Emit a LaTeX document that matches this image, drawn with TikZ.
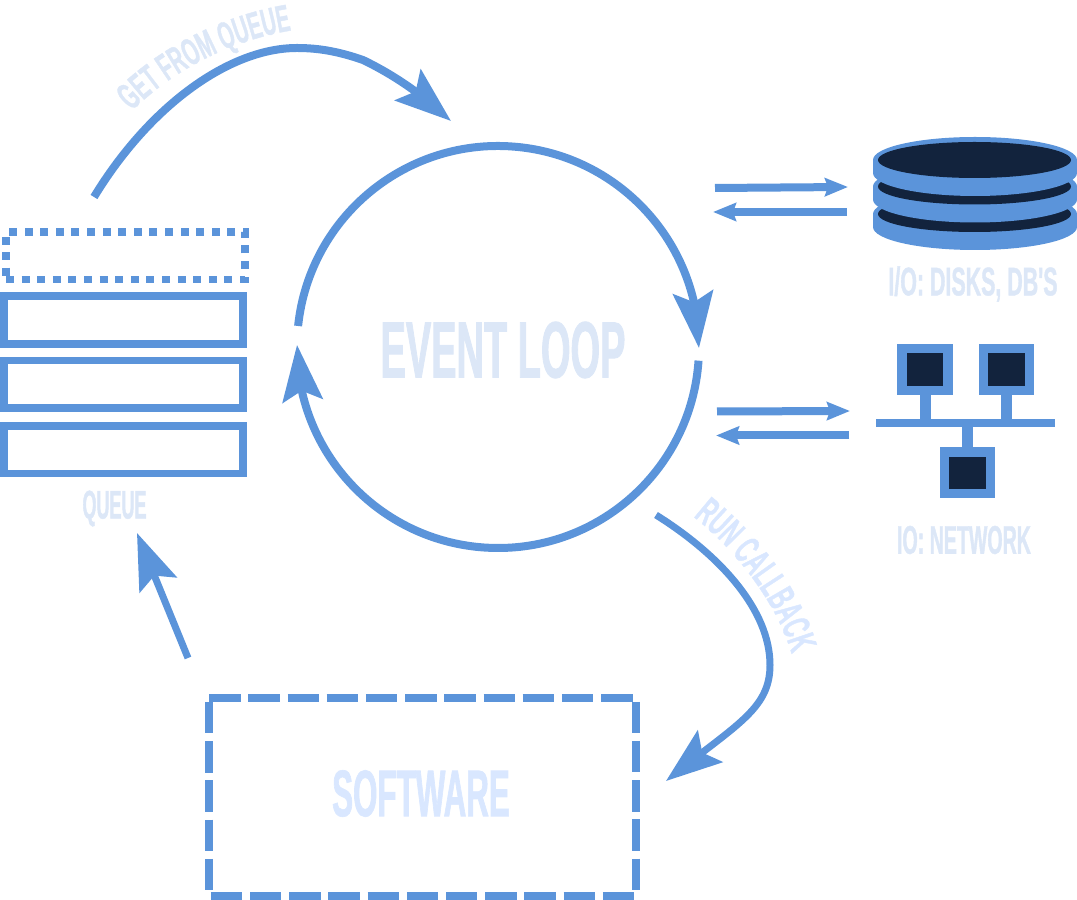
\documentclass[tikz,border=0pt]{standalone}
\usepackage{fontspec}
\usetikzlibrary{arrows.meta,bending,decorations.text}
\newfontfamily\labelfont{Liberation Sans Bold}[FakeBold=1]
\newcommand{\labelface}[2]{\labelfont\fontsize{#1}{#1}\selectfont\addfontfeature{FakeStretch=#2}}
\newcommand{\getface}{|\labelface{38}{0.525}|}
\newcommand{\runface}{|\labelface{39}{0.55}|}
\definecolor{flowblue}{HTML}{5B94DA}
\definecolor{labelblue}{HTML}{DCE7F7}
\definecolor{softblue}{HTML}{D9E7FF}
\definecolor{iconnavy}{HTML}{12233D}
\tikzset{
  bigflow/.style={draw=flowblue, line width=8pt, -{Stealth[length=56pt, width=40pt, inset=10pt]}},
  smallflow/.style={draw=flowblue, line width=8pt, -{Stealth[length=23pt, width=18pt, inset=3pt]}},
  queueslot/.style={draw=flowblue, line width=7.7pt, minimum width=239pt, minimum height=47.7pt, inner sep=0pt},
  hostbox/.style={draw=flowblue, fill=iconnavy, line width=9.3pt, minimum width=46pt, minimum height=41.7pt, inner sep=0pt},
  softedge/.style={draw=flowblue, line width=8pt, dash pattern=on 31.4pt off 7.8pt},
  smalllabel/.style={text=labelblue, inner sep=0pt, font=\labelface{40}{#1}},
  curvelabel/.style={decorate, decoration={text along path, text align=center, text color=#1}},
}
\begin{document}
\begin{tikzpicture}[x=1pt, y=1pt]
  \useasboundingbox (0,0) rectangle (1077,900);

  \coordinate (loopc) at (498,553);
  \draw [bigflow] (loopc) ++(174:201pt) arc [start angle=174, end angle=-0.3, radius=201pt];
  \draw [bigflow] (loopc) ++(-3.9:201pt) arc [start angle=-3.9, end angle=-180.6, radius=201pt];
  \node [text=labelblue, inner sep=0pt, font=\labelface{80}{0.475}] at (503,550) (looplabel) {EVENT LOOP};

  \node [queueslot, dash pattern=on 8pt off 7.6pt] at (125.5,644.3) (slotfree) {};
  \node [queueslot] at (123.5,580) (slota) {};
  \node [queueslot] at (123.5,515.7) (slotb) {};
  \node [queueslot] at (123.5,450.3) (slotc) {};
  \node [smalllabel=0.45] at (114.5,391.5) (queuelabel) {QUEUE};

  \node [minimum width=426.7pt, minimum height=197.7pt, inner sep=0pt] at (422.65,102.85) (software) {};
  \draw [softedge, shorten >=3.3pt] (software.north west) -- (software.north east);
  \draw [softedge, shorten <=3.7pt, shorten >=5.4pt] (software.north east) -- (software.south east);
  \draw [softedge, shorten <=1.7pt, shorten >=1.3pt] (software.south west) -- (software.south east);
  \draw [softedge, shorten <=4pt, shorten >=6pt] (software.north west) -- (software.south west);
  \node [text=softblue, inner sep=0pt, font=\labelface{66}{0.475}] at (421,106.5) (softlabel) {SOFTWARE};

  \coordinate (getstart) at (94,703);
  \coordinate (gettip) at (451,779);
  \draw [bigflow] (getstart) .. controls (150,795) and (230,852) .. (297,852)
    .. controls (320,852) and (340,848) .. (363,840)
    .. controls (390,827) and (420,808) .. (gettip);
  \path [curvelabel=labelblue, decoration={text={\getface GET FROM QUEUE}}] (130,787) .. controls (170,828) and (230,860) .. (294,870);

  \coordinate (runstart) at (656,385);
  \coordinate (runtip) at (666,119);
  \draw [bigflow, line width=7pt] (runstart) .. controls (720,345) and (770,290) .. (770,235)
    .. controls (770,190) and (735,175) .. (runtip);
  \path [curvelabel=softblue, decoration={text={\runface RUN CALLBACK}}] (695,382) .. controls (735,350) and (775,300) .. (791,248);

  \coordinate (softstart) at (188,242);
  \coordinate (queuetip) at (137,367);
  \draw [bigflow, line width=7pt] (softstart) -- (queuetip);

  \coordinate (diska) at (715,712);
  \coordinate (diskb) at (848,713);
  \coordinate (diskc) at (847,688);
  \coordinate (diskd) at (713,688);
  \draw [smallflow] (diska) -- (diskb);
  \draw [smallflow] (diskc) -- (diskd);

  \foreach \y in {686,713.5,740} {
    \fill [flowblue] (873,\y) arc [start angle=180, end angle=0, x radius=102pt, y radius=23pt]
      -- ++(0,-13) arc [start angle=0, end angle=-180, x radius=102pt, y radius=23pt] -- cycle;
    \fill [iconnavy] (974.5,\y) ellipse [x radius=96.5pt, y radius=18pt];
  }
  \node [smalllabel=0.535] at (973,616) (disklabel) {I/O: DISKS, DB'S};

  \coordinate (neta) at (717,488.5);
  \coordinate (netb) at (850,489);
  \coordinate (netc) at (849,464.5);
  \coordinate (netd) at (716,464.5);
  \draw [smallflow] (neta) -- (netb);
  \draw [smallflow] (netc) -- (netd);

  \node [fill=flowblue, minimum width=179.3pt, minimum height=7.4pt, inner sep=0pt] at (965.7,477) (netbar) {};
  \node [hostbox] at (925,530.5) (hosta) {};
  \node [hostbox] at (1006.8,530.5) (hostb) {};
  \node [hostbox] at (967.5,427.2) (hostc) {};
  \draw [flowblue, line width=11pt] (hosta.south) -- (hosta.south |- netbar.north);
  \draw [flowblue, line width=11pt] (hostb.south) -- (hostb.south |- netbar.north);
  \draw [flowblue, line width=11pt] (hostc.north) -- (hostc.north |- netbar.south);
  \node [smalllabel=0.49] at (964,360) (netlabel) {IO: NETWORK};
\end{tikzpicture}
\end{document}
